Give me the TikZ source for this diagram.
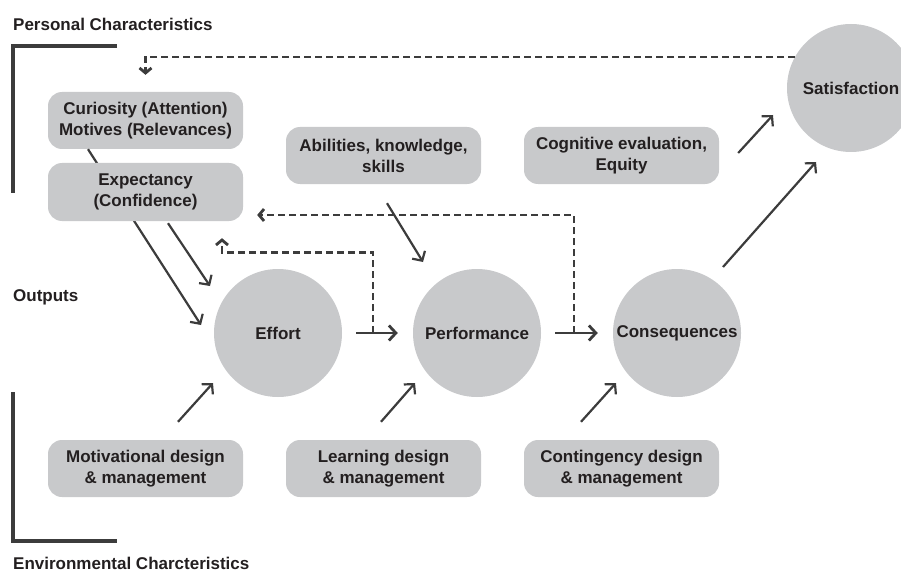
\documentclass[tikz,border=0pt]{standalone}
\usepackage{fontspec}
\setmainfont{Liberation Sans}
\usetikzlibrary{arrows.meta,calc}
\definecolor{boxgray}{HTML}{C8C9CB}
\definecolor{linegray}{HTML}{3C3C3C}
\definecolor{textgray}{HTML}{231F20}

\begin{document}
\begin{tikzpicture}[x = 1pt, y = -1pt,
    every node/.style = {font = \fontsize{17}{21}\selectfont\bfseries,
      text = textgray, inner sep = 0pt},
    box/.style = {fill = boxgray, rounded corners = 14pt, align = center,
      minimum width = 195pt, minimum height = 57pt},
    ball/.style = {circle, fill = boxgray, minimum size = 128pt},
    arr/.style = {draw = linegray, line width = 2.2pt,
      -{Straight Barb[length = 7pt, width = 15pt]}},
    dsh/.style = {arr, line width = 2.8pt, dash pattern = on 7pt off 4pt,
      -{Straight Barb[length = 5pt, width = 12pt]}},
    brk/.style = {draw = linegray, line width = 3.2pt}]
  \useasboundingbox (0, 0) rectangle (901, 572);
  % side labels
  \node[anchor = west] (pers) at (13, 24) {Personal Characteristics};
  \node[anchor = west] (outp) at (13, 297) {Outputs};
  \node[anchor = west] (envr) at (13, 563.5) {Environmental Charcteristics};
  % brackets
  \draw[brk] (117, 46) -- (13, 46) -- (13, 193);
  \draw[brk] (13, 392) -- (13, 541) -- (117, 541);
  % circles
  \node[ball] (eff) at (278, 333) {Effort};
  \node[ball] (per) at (477, 333) {Performance};
  \node[ball] (cnq) at (677, 333) {Consequences};
  \node[ball] (sat) at (851, 88) {Satisfaction};
  % personal boxes
  \node[box] (cur) at (145.5, 120.5) {Curiosity (Attention)\\Motives (Relevances)};
  \draw[arr] ($(cur.south) + (-57.5, 0)$) -- ($(eff) + (-77, -8)$);
  \node[box, minimum height = 58pt] (exp) at (145.5, 192) {Expectancy\\(Confidence)};
  \node[box] (abl) at (383.5, 155.5) {Abilities, knowledge,\\skills};
  \node[box] (cog) at (621.5, 155.5) {Cognitive evaluation,\\Equity};
  % environmental boxes
  \node[box] (mot) at (145.5, 468.5) {Motivational design\\\& management};
  \node[box] (lrn) at (383.5, 468.5) {Learning design\\\& management};
  \node[box] (con) at (621.5, 468.5) {Contingency design\\\& management};
  % solid arrows
  \draw[arr] ($(exp.south) + (22.5, 2)$) -- ($(eff) + (-68, -47)$);
  \draw[arr] ($(abl.south) + (3.5, 19)$) -- ($(per) + (-54, -71)$);
  \draw[arr, line width = 2.8pt, shorten <= 14pt, shorten >= 15pt] (eff) -- (per);
  \draw[arr, line width = 2.8pt, shorten <= 14pt, shorten >= 15pt] (per) -- (cnq);
  \draw[arr] ($(mot.north) + (32.5, -18)$) -- ($(eff) + (-65, 50)$);
  \draw[arr] ($(lrn.north) + (-2.5, -18)$) -- ($(per) + (-62, 50)$);
  \draw[arr] ($(con.north) + (-40.5, -18)$) -- ($(cnq) + (-61, 50)$);
  \draw[arr] ($(cnq) + (46, -66)$) -- ($(sat) + (-35, 74)$);
  \draw[arr] ($(cog.east) + (19, -2.5)$) -- ($(sat) + (-78, 27)$);
  % feedback loops
  \coordinate (j1) at ($(eff.east)!0.437!(per.west)$);
  \coordinate (j2) at ($(per.east)!0.458!(cnq.west)$);
  \draw[dsh] ($(sat) + (-56, -31)$) -| ($(cur.north) + (0, -17)$);
  \draw[dsh] (j2) |- ($(exp.east) + (14, 23)$);
  \draw[dsh] (j1) |- ($(exp.south) + (76.5, 31)$) -- ++(0, -14);
\end{tikzpicture}
\end{document}
